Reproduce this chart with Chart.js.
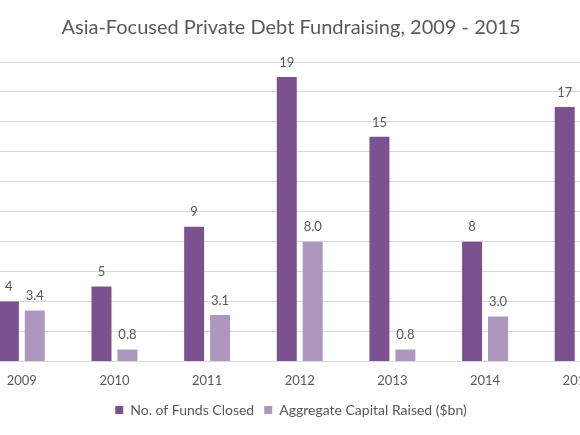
<!DOCTYPE html>
<html>
<head>
<meta charset="utf-8">
<script src="https://cdn.jsdelivr.net/npm/chart.js@4"></script>
<style>
  html, body { margin: 0; padding: 0; background: #fff; overflow: hidden; }
  .wrap { position: absolute; left: -42px; top: 0; width: 666px; height: 435px; }
</style>
</head>
<body>
<div class="wrap"><canvas id="chart"></canvas></div>
<script>
const years = ['2009', '2010', '2011', '2012', '2013', '2014', '2015'];
const fundsClosed = [4, 5, 9, 19, 15, 8, 17];
const capitalRaised = [3.4, 0.8, 3.1, 8.0, 0.8, 3.0, 4.3];
const grey = '#595959';

// values above the bars
const valueLabels = {
  id: 'valueLabels',
  afterDatasetsDraw(chart) {
    const ctx = chart.ctx;
    ctx.save();
    ctx.font = '13px Lato';
    ctx.fillStyle = grey;
    ctx.textAlign = 'center';
    ctx.textBaseline = 'bottom';
    chart.data.datasets.forEach((ds, i) => {
      chart.getDatasetMeta(i).data.forEach((bar, j) => {
        const txt = i === 0 ? String(ds.data[j]) : ds.data[j].toFixed(1);
        ctx.fillText(txt, bar.x, bar.y - 8);
      });
    });
    ctx.restore();
  }
};

new Chart(document.getElementById('chart'), {
  type: 'bar',
  data: {
    labels: years,
    datasets: [
      {
        label: 'No. of Funds Closed',
        data: fundsClosed,
        backgroundColor: '#7b528f',
        categoryPercentage: 0.56,
        barPercentage: 0.77,
      },
      {
        label: 'Aggregate Capital Raised ($bn)',
        data: capitalRaised,
        backgroundColor: '#ae97bc',
        categoryPercentage: 0.56,
        barPercentage: 0.77,
      },
    ],
  },
  options: {
    responsive: true,
    maintainAspectRatio: false,
    animation: false,
    layout: { padding: { top: 16, bottom: 8 } },
    scales: {
      x: {
        grid: { display: false },
        border: { color: '#d9d9d9' },
        ticks: { color: grey, font: { family: 'Lato', size: 13 }, padding: 4 },
      },
      y: {
        min: 0,
        max: 20,
        ticks: { display: false, stepSize: 2 },
        grid: { color: '#d9d9d9', drawTicks: false },
        border: { display: false },
        afterFit: (axis) => { axis.width = 17.5; },
      },
    },
    plugins: {
      title: {
        display: true,
        text: 'Asia-Focused Private Debt Fundraising, 2009 - 2015',
        color: grey,
        font: { family: 'Lato', size: 20, weight: 'normal' },
        padding: { top: 0, bottom: 22 },
      },
      legend: {
        position: 'bottom',
        labels: {
          color: grey,
          font: { family: 'Lato', size: 14 },
          boxWidth: 8,
          boxHeight: 8,
          padding: 10,
        },
      },
      tooltip: { enabled: false },
    },
  },
  plugins: [valueLabels],
});
</script>
</body>
</html>
